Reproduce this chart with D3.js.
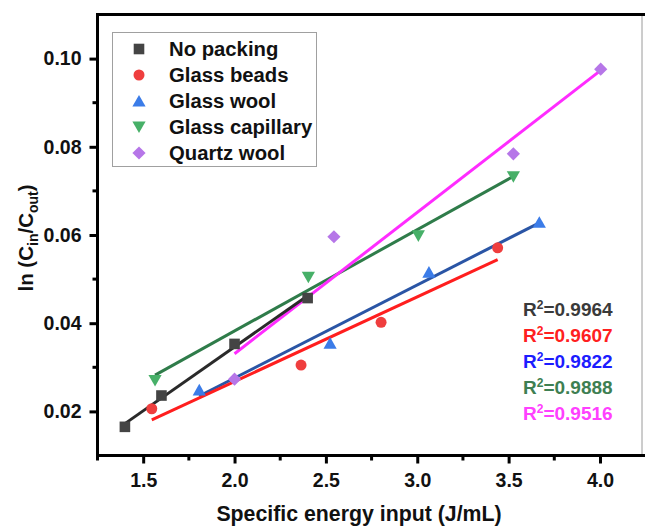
<!DOCTYPE html>
<html>
<head>
<meta charset="utf-8">
<script src="https://cdn.jsdelivr.net/npm/d3@7"></script>
<style>
  html, body { margin: 0; padding: 0; background: #fff; }
  svg { display: block; font-family: "Liberation Sans", Arial, sans-serif; font-weight: bold; }
</style>
</head>
<body>
<svg id="chart" width="645" height="528"></svg>
<script>
// Series: specific energy input (J/mL) vs ln(Cin/Cout)
const seriesNames = ["No packing", "Glass beads", "Glass wool", "Glass capillary", "Quartz wool"];
const noPackingX = [1.40, 1.60, 2.00, 2.40];
const noPackingY = [0.0165, 0.0236, 0.0353, 0.0457];
const glassBeadsX = [1.547, 2.364, 2.802, 3.440];
const glassBeadsY = [0.0206, 0.0305, 0.0402, 0.0571];
const glassWoolX = [1.807, 2.523, 3.064, 3.668];
const glassWoolY = [0.0249, 0.0355, 0.0516, 0.0629];
const glassCapX = [1.565, 2.404, 3.006, 3.526];
const glassCapY = [0.0270, 0.0504, 0.0598, 0.0732];
const quartzWoolX = [2.000, 2.544, 3.526, 4.004];
const quartzWoolY = [0.0273, 0.0596, 0.0784, 0.0976];
const r2Labels = ["0.9964", "0.9607", "0.9822", "0.9888", "0.9516"];

const xTicks = [1.5, 2.0, 2.5, 3.0, 3.5, 4.0];
const xMinorTicks = [1.25, 1.75, 2.25, 2.75, 3.25, 3.75];
const yTicks = [0.02, 0.04, 0.06, 0.08, 0.10];
const yMinorTicks = [0.03, 0.05, 0.07, 0.09];

const markerFill = ["#444444", "#ef3e3e", "#3b7ce8", "#47b068", "#b676e8"];
const lineColor = ["#2a2a2a", "#ff1e1e", "#2a55a5", "#2f7c4a", "#ff2cff"];
const r2Color = ["#3a3a3a", "#ff2020", "#1c1cff", "#3e7f52", "#ff40ff"];
const shapes = ["square", "circle", "triangleUp", "triangleDown", "diamond"];

const seriesX = [noPackingX, glassBeadsX, glassWoolX, glassCapX, quartzWoolX];
const seriesY = [noPackingY, glassBeadsY, glassWoolY, glassCapY, quartzWoolY];

const svg = d3.select("#chart");
const plotLeft = 97.5, plotRight = 642, plotTop = 14.5, plotBottom = 455.5;

const x = d3.scaleLinear().domain([1.25, 4.23]).range([plotLeft, plotRight]);
const y = d3.scaleLinear().domain([0.01, 0.11]).range([plotBottom, plotTop]);

// marker path generator, centred on the bounding box
function markerPath(shape) {
  switch (shape) {
    case "square": return "M-5.3,-5.3H5.3V5.3H-5.3Z";
    case "circle": return d3.symbol(d3.symbolCircle, 95)();
    case "triangleUp": return "M0,-6L6.6,5.6H-6.6Z";
    case "triangleDown": return "M0,6L6.6,-5.6H-6.6Z";
    case "diamond": return "M0,-6.6L6.6,0L0,6.6L-6.6,0Z";
  }
}

// least-squares fit over each series' x range
function fit(xs, ys) {
  const mx = d3.mean(xs), my = d3.mean(ys);
  const sxy = d3.sum(xs, (v, i) => (v - mx) * (ys[i] - my));
  const sxx = d3.sum(xs, v => (v - mx) * (v - mx));
  const b = sxy / sxx, a = my - b * mx;
  const x0 = d3.min(xs), x1 = d3.max(xs);
  return [[x0, a + b * x0], [x1, a + b * x1]];
}

// right frame edge
svg.append("line").attr("x1", plotRight).attr("x2", plotRight).attr("y1", plotTop).attr("y2", plotBottom)
  .attr("stroke", "#9a9a9a").attr("stroke-width", 1);

// fit lines
const lineGen = d3.line().x(d => x(d[0])).y(d => y(d[1]));
const fitOrder = [3, 4, 0, 2, 1];
fitOrder.forEach(i => {
  svg.append("path").attr("d", lineGen(fit(seriesX[i], seriesY[i])))
    .attr("fill", "none").attr("stroke", lineColor[i]).attr("stroke-width", 3);
});

// markers
seriesNames.forEach((name, i) => {
  svg.append("g").selectAll("path").data(seriesX[i].map((v, k) => [v, seriesY[i][k]]))
    .join("path")
    .attr("d", markerPath(shapes[i]))
    .attr("transform", d => `translate(${x(d[0])},${y(d[1])})`)
    .attr("fill", markerFill[i]);
});

// axes
const xAxis = svg.append("g").attr("transform", `translate(0,${plotBottom})`);
xAxis.call(d3.axisBottom(x).tickValues(xTicks).tickFormat(d3.format(".1f")).tickSizeInner(8).tickSizeOuter(0))
  .call(g => g.select(".domain").remove());
xAxis.selectAll(".tick line").attr("stroke", "#000").attr("stroke-width", 3);
xAxis.selectAll(".tick text").attr("font-size", 19.5).attr("font-weight", "bold")
  .attr("font-family", "Liberation Sans, Arial, sans-serif").attr("fill", "#111").attr("dy", "1.05em");
xAxis.selectAll(".minor").data(xMinorTicks).join("line")
  .attr("x1", d => x(d)).attr("x2", d => x(d)).attr("y1", 0).attr("y2", 5)
  .attr("stroke", "#000").attr("stroke-width", 3);

const yAxis = svg.append("g").attr("transform", `translate(${plotLeft},0)`);
yAxis.call(d3.axisLeft(y).tickValues(yTicks).tickFormat(d3.format(".2f")).tickSizeInner(8).tickSizeOuter(0))
  .call(g => g.select(".domain").remove());
yAxis.selectAll(".tick line").attr("stroke", "#000").attr("stroke-width", 3);
yAxis.selectAll(".tick text").attr("font-size", 19.5).attr("font-weight", "bold")
  .attr("font-family", "Liberation Sans, Arial, sans-serif").attr("fill", "#111").attr("x", -16);
yAxis.selectAll(".minor").data(yMinorTicks).join("line")
  .attr("y1", d => y(d)).attr("y2", d => y(d)).attr("x1", 0).attr("x2", -5)
  .attr("stroke", "#000").attr("stroke-width", 3);

// frame: left, bottom, top
svg.append("line").attr("x1", plotLeft).attr("x2", plotLeft).attr("y1", plotTop - 1.5).attr("y2", plotBottom + 1.5)
  .attr("stroke", "#000").attr("stroke-width", 3);
svg.append("line").attr("x1", plotLeft - 1.5).attr("x2", 645).attr("y1", plotBottom).attr("y2", plotBottom)
  .attr("stroke", "#000").attr("stroke-width", 3);
svg.append("line").attr("x1", plotLeft - 1.5).attr("x2", 645).attr("y1", plotTop).attr("y2", plotTop)
  .attr("stroke", "#000").attr("stroke-width", 3);

// legend
const legend = svg.append("g");
legend.append("rect").attr("x", 112.5).attr("y", 32.5).attr("width", 204).attr("height", 134)
  .attr("fill", "#fff").attr("stroke", "#a0a0a0").attr("stroke-width", 1);
seriesNames.forEach((name, i) => {
  const cy = 49 + i * 26;
  legend.append("path").attr("d", markerPath(shapes[i]))
    .attr("transform", `translate(139,${cy})`).attr("fill", markerFill[i]);
  legend.append("text").attr("x", 169).attr("y", cy).attr("dy", "0.36em")
    .attr("font-size", 20.3).attr("fill", "#111").text(name);
});

// R² annotations
r2Labels.forEach((v, i) => {
  const t = svg.append("text").attr("x", 523).attr("y", 316 + i * 26)
    .attr("font-size", 19).attr("fill", r2Color[i]);
  t.append("tspan").text("R");
  t.append("tspan").attr("font-size", 12).attr("dy", -7).text("2");
  t.append("tspan").attr("dy", 7).text("=" + v);
});

// axis titles
svg.append("text").attr("x", 359).attr("y", 521).attr("text-anchor", "middle")
  .attr("font-size", 21.3).attr("fill", "#111").text("Specific energy input (J/mL)");

const yt = svg.append("text").attr("transform", "translate(33,238) rotate(-90)")
  .attr("text-anchor", "middle").attr("font-size", 20.5).attr("fill", "#111");
yt.append("tspan").text("ln (C");
yt.append("tspan").attr("font-size", 14).attr("dy", 5).text("in");
yt.append("tspan").attr("dy", -5).text("/C");
yt.append("tspan").attr("font-size", 14).attr("dy", 5).text("out");
yt.append("tspan").attr("dy", -5).text(")");
</script>
</body>
</html>
